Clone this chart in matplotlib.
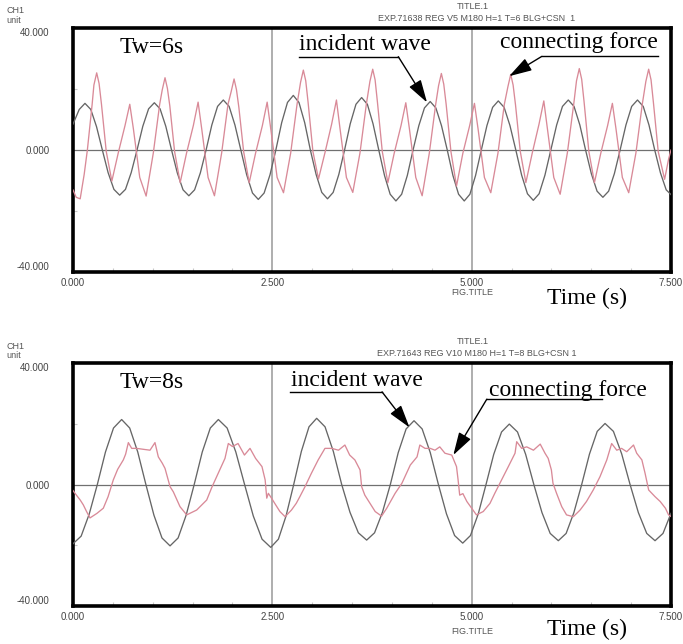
import matplotlib
matplotlib.use("Agg")
import matplotlib.pyplot as plt
from matplotlib.ticker import MultipleLocator, FixedLocator

# ---- top panel (Tw = 6 s) ----
t6_wave = [0.0, 0.078, 0.15, 0.223, 0.295, 0.368, 0.44, 0.513, 0.585, 0.658, 0.73, 0.803, 0.875, 0.948,
           1.02, 1.092, 1.164, 1.236, 1.308, 1.38, 1.453, 1.525, 1.597, 1.669, 1.741, 1.813,
           1.885, 1.958, 2.031, 2.105, 2.178, 2.251, 2.324, 2.397, 2.471, 2.544, 2.617, 2.69,
           2.763, 2.834, 2.906, 2.977, 3.049, 3.12, 3.192, 3.263, 3.334, 3.406, 3.477, 3.549,
           3.62, 3.692, 3.763, 3.835, 3.907, 3.978, 4.05, 4.122, 4.193, 4.265, 4.337, 4.408,
           4.48, 4.551, 4.622, 4.694, 4.765, 4.836, 4.907, 4.978, 5.049, 5.121, 5.192, 5.263,
           5.334, 5.407, 5.48, 5.554, 5.627, 5.7, 5.773, 5.846, 5.919, 5.993, 6.066, 6.139,
           6.212, 6.284, 6.357, 6.429, 6.501, 6.573, 6.646, 6.718, 6.79, 6.862, 6.935, 7.007,
           7.08, 7.152, 7.224, 7.296, 7.368, 7.44, 7.5]
v6_wave = [8.5, 13.3, 15.3, 13.3, 7.65, 0, -7.4, -12.9, -14.8, -12.9, -7.4, 0, 7.75, 13.5,
           15.5, 13.5, 7.75, 0, -7.5, -13.05, -15.0, -13.05, -7.5, 0, 8.2, 14.3,
           16.4, 14.3, 8.2, 0, -8.1, -14.1, -16.2, -14.1, -8.1, 0, 8.95, 15.6,
           17.9, 15.6, 8.95, 0, -8.0, -13.9, -16.0, -13.9, -8.0, 0, 8.6, 15.0,
           17.2, 15.0, 8.6, 0, -8.35, -14.5, -16.7, -14.5, -8.35, 0, 7.95, 13.8,
           15.9, 13.8, 7.95, 0, -8.35, -14.5, -16.7, -14.5, -8.35, 0, 8.05, 14.0,
           16.1, 14.0, 8.05, 0, -8.25, -14.35, -16.5, -14.35, -8.25, 0, 8.2, 14.3,
           16.4, 14.3, 8.2, 0, -7.75, -13.5, -15.5, -13.5, -7.75, 0, 8.2, 14.3,
           16.4, 14.3, 8.2, 0, -7.5, -13.05, -14.6]

t6_force = [0.0, 0.04, 0.09, 0.14, 0.18, 0.24,
            0.262, 0.297, 0.327, 0.357, 0.417, 0.487, 0.567, 0.652, 0.712, 0.757, 0.837, 0.917, 1.007, 1.087,
            1.119, 1.154, 1.184, 1.214, 1.274, 1.344, 1.424, 1.509, 1.569, 1.614, 1.694, 1.774, 1.864, 1.944,
            1.985, 2.02, 2.05, 2.08, 2.14, 2.21, 2.29, 2.375, 2.435, 2.48, 2.56, 2.64, 2.73, 2.81,
            2.854, 2.889, 2.919, 2.949, 3.009, 3.079, 3.159, 3.244, 3.304, 3.349, 3.429, 3.509, 3.599, 3.679,
            3.724, 3.759, 3.789, 3.819, 3.879, 3.949, 4.029, 4.114, 4.174, 4.219, 4.299, 4.379, 4.469, 4.549,
            4.585, 4.62, 4.65, 4.68, 4.74, 4.81, 4.89, 4.975, 5.035, 5.08, 5.16, 5.24, 5.33, 5.41,
            5.455, 5.49, 5.52, 5.55, 5.61, 5.68, 5.76, 5.845, 5.905, 5.95, 6.03, 6.11, 6.2, 6.28,
            6.315, 6.35, 6.38, 6.41, 6.47, 6.54, 6.62, 6.705, 6.765, 6.81, 6.89, 6.97, 7.06, 7.14,
            7.185, 7.22, 7.25, 7.28, 7.34, 7.42, 7.47, 7.5]
v6_force = [-13.1, -15.5, -16.0, -8.0, 0.0, 15.0,
            21.3, 25.3, 21.8, 15.0, -0.5, -10.2, -1.0, 8.0, 15.0, 7.0, -9.0, -15.1, -1.0, 15.0,
            19.7, 23.7, 20.2, 14.5, -0.5, -10.7, -1.0, 8.0, 15.7, 7.0, -9.0, -15.0, -1.0, 15.0,
            19.3, 23.3, 19.8, 14.0, -0.5, -10.7, -1.0, 8.0, 15.7, 7.0, -9.0, -14.0, -1.0, 15.0,
            22.2, 26.2, 22.7, 15.5, -0.5, -9.5, -1.0, 8.5, 16.4, 7.0, -9.0, -13.9, -1.0, 15.0,
            22.5, 26.5, 23.0, 15.5, -0.5, -10.7, -1.0, 8.0, 15.5, 7.0, -9.0, -15.0, -1.0, 15.0,
            21.1, 25.1, 21.6, 15.0, -0.5, -11.8, -1.0, 8.0, 15.3, 7.0, -9.0, -14.0, -1.0, 15.0,
            20.8, 24.8, 21.3, 14.8, -0.5, -10.7, -1.0, 8.5, 16.1, 7.0, -9.0, -14.5, -1.0, 15.0,
            22.7, 26.7, 23.2, 15.8, -0.5, -10.7, -1.0, 8.0, 15.3, 7.0, -9.0, -14.0, -1.0, 15.0,
            22.5, 26.5, 23.0, 15.5, -0.5, -9.6, -3.0, 0.0]

# ---- bottom panel (Tw = 8 s) ----
t8_wave = [0.0, 0.102, 0.203, 0.305, 0.407, 0.508, 0.61,
           0.711, 0.812, 0.914, 1.015, 1.116, 1.217,
           1.318, 1.419, 1.52, 1.621, 1.722, 1.823,
           1.933, 2.042, 2.152, 2.261, 2.371, 2.48,
           2.576, 2.672, 2.768, 2.864, 2.96, 3.056,
           3.161, 3.265, 3.37, 3.474, 3.579, 3.683,
           3.782, 3.881, 3.98, 4.079, 4.178, 4.277,
           4.379, 4.481, 4.583, 4.684, 4.786, 4.888,
           4.985, 5.083, 5.18, 5.277, 5.375, 5.472,
           5.575, 5.677, 5.78, 5.882, 5.985, 6.087,
           6.185, 6.282, 6.38, 6.478, 6.575, 6.673,
           6.778, 6.882, 6.987, 7.091, 7.196, 7.3, 7.4, 7.5]
v8_wave = [-19.5, -17.0, -9.75, 0, 10.7, 18.6, 21.4,
           18.6, 10.7, 0, -10.1, -17.6, -20.2,
           -17.6, -10.1, 0, 10.7, 18.6, 21.4,
           18.6, 10.7, 0, -10.35, -18.0, -20.7,
           -18.0, -10.35, 0, 10.9, 19.0, 21.8,
           19.0, 10.9, 0, -9.15, -15.9, -18.3,
           -15.9, -9.15, 0, 10.5, 18.3, 21.0,
           18.3, 10.5, 0, -9.65, -16.8, -19.3,
           -16.8, -9.65, 0, 9.95, 17.3, 19.9,
           17.3, 9.95, 0, -9.25, -16.1, -18.5,
           -16.1, -9.25, 0, 10.05, 17.5, 20.1,
           17.5, 10.05, 0, -9.25, -16.1, -18.5, -16.1, -9.5]

t8_force = [0.0, 0.025, 0.09, 0.129, 0.17, 0.213, 0.3, 0.38, 0.44, 0.505, 0.56, 0.631, 0.66,
            0.694, 0.736, 0.799, 0.88, 0.966, 1.028, 1.07, 1.12, 1.154, 1.217, 1.258, 1.342,
            1.426, 1.551, 1.677, 1.74, 1.802, 1.906, 1.948, 2.0, 2.07, 2.15, 2.22, 2.29, 2.37,
            2.41, 2.43, 2.45, 2.49, 2.53, 2.595, 2.66, 2.74, 2.8, 2.845, 2.91, 2.99, 3.075,
            3.16, 3.245, 3.33, 3.41, 3.47, 3.535, 3.6, 3.62, 3.66, 3.725, 3.79, 3.87, 3.935,
            4.04, 4.125, 4.23, 4.315, 4.35, 4.415, 4.48, 4.54, 4.6, 4.665, 4.75, 4.81, 4.83,
            4.85, 4.89, 4.94, 5.0, 5.06, 5.145, 5.23, 5.29, 5.375, 5.46, 5.544, 5.565, 5.628,
            5.69, 5.775, 5.86, 5.92, 5.96, 6.0, 6.02, 6.065, 6.13, 6.19, 6.275, 6.36, 6.44,
            6.525, 6.61, 6.695, 6.756, 6.82, 6.88, 6.945, 7.03, 7.07, 7.135, 7.175, 7.22,
            7.26, 7.3, 7.365, 7.43, 7.47, 7.5]
v8_force = [-2.0, -2.9, -5.1, -6.7, -8.9, -11.0, -9.5, -7.8, -4.0, 1.5, 5.0, 8.1, 10.0,
            13.8, 11.9, 11.9, 11.6, 11.3, 13.8, 9.1, 7.0, 5.3, -0.7, -2.4, -7.3,
            -10.0, -8.4, -5.1, -1.0, 2.6, 8.6, 13.5, 12.5, 13.5, 9.7, 11.9, 8.6, 5.9,
            1.5, -4.5, -2.9, -4.5, -6.2, -8.9, -10.6, -8.4, -6.2, -4.0, -0.7, 3.7, 8.1,
            11.9, 11.9, 11.3, 13.0, 9.7, 8.1, 4.8, -0.7, -3.5, -6.2, -8.9, -10.4, -7.8,
            -2.9, 0.4, 6.4, 9.1, 13.0, 11.9, 11.9, 11.3, 12.4, 10.3, 9.7, 5.9, 1.5,
            -3.5, -3.0, -5.6, -7.8, -10.0, -8.9, -6.2, -2.9, 1.5, 5.9, 10.3, 14.1, 11.9,
            12.4, 11.3, 13.3, 10.3, 8.6, 4.8, 0.4, -2.9, -7.3, -10.0, -10.6, -8.4, -5.6,
            -1.8, 2.6, 8.1, 13.5, 11.3, 11.9, 10.8, 13.0, 10.3, 8.1, 3.7, -1.8,
            -2.9, -4.0, -5.6, -7.8, -10.0, -10.5]

x_ticks = [0.0, 2.5, 5.0, 7.5]
x_tick_labels = ["0.000", "2.500", "5.000", "7.500"]
y_ticks = [-40, 0, 40]
y_tick_labels = ["-40.000", "0.000", "40.000"]

panels = [
    dict(t_wave=t6_wave, v_wave=v6_wave, t_force=t6_force, v_force=v6_force,
         rect=[0.1069, 0.5776, 0.8755, 0.3789], tw="Tw=6s", time_y=-0.11, fig_y=-0.082,
         exp="EXP.71638 REG V5 M180 H=1 T=6 BLG+CSN  1",
         inc_text=(3.66, 34.7), inc_line=[(2.83, 30.6), (4.08, 30.6)], inc_tip=(4.44, 15.6),
         con_text=(6.35, 35.3), con_line=[(7.34, 30.7), (5.88, 30.7)], con_tip=(5.47, 24.2)),
    dict(t_wave=t8_wave, v_wave=v8_wave, t_force=t8_force, v_force=v8_force,
         rect=[0.1069, 0.0590, 0.8755, 0.3773], tw="Tw=8s", time_y=-0.095, fig_y=-0.105,
         exp="EXP.71643 REG V10 M180 H=1 T=8 BLG+CSN 1",
         inc_text=(3.556, 34.4), inc_line=[(2.72, 30.5), (3.876, 30.5)], inc_tip=(4.22, 18.8),
         con_text=(6.21, 31.1), con_line=[(6.63, 28.1), (5.19, 28.1)], con_tip=(4.77, 9.7)),
]

serif = "Liberation Serif"
sans = "Liberation Sans"
hdr_col = "#555555"
arrow = dict(arrowstyle="-|>,head_length=1.4,head_width=0.42",
             color="black", lw=1.0, shrinkA=0, shrinkB=0)

fig = plt.figure(figsize=(6.83, 6.44), dpi=100)

for p in panels:
    ax = fig.add_axes(p["rect"])
    ax.set_xlim(0, 7.5)
    ax.set_ylim(-40, 40)

    ax.axvline(2.5, color="#a8a8a8", lw=1.3, zorder=1)
    ax.axvline(5.0, color="#a8a8a8", lw=1.3, zorder=1)
    ax.axhline(0, color="#707070", lw=0.9, zorder=1)

    ax.plot(p["t_wave"], p["v_wave"], color="#666666", lw=0.95, zorder=3)
    ax.plot(p["t_force"], p["v_force"], color="#d98a98", lw=0.95, zorder=4)

    for s in ax.spines.values():
        s.set_linewidth(2.6)
        s.set_color("black")

    ax.xaxis.set_major_locator(FixedLocator(x_ticks))
    ax.set_xticklabels(x_tick_labels)
    ax.yaxis.set_major_locator(FixedLocator(y_ticks))
    ax.set_yticklabels(y_tick_labels)
    ax.xaxis.set_minor_locator(MultipleLocator(0.5))
    ax.yaxis.set_minor_locator(FixedLocator([-20, 20]))
    ax.tick_params(axis="both", which="major", length=0, labelsize=7, labelcolor="#444444")
    ax.tick_params(axis="x", which="major", pad=4)
    ax.tick_params(axis="y", which="major", pad=17)
    ax.tick_params(axis="both", which="minor", direction="in", length=3, color="#c8c8c8", width=0.8)
    for lab in ax.get_xticklabels() + ax.get_yticklabels():
        lab.set_family(sans)
    ylabs = ax.get_yticklabels()
    ylabs[0].set_va("bottom")
    ylabs[2].set_va("top")

    ax.text(0.99, 33.7, p["tw"], family=serif, fontsize=17, ha="center", va="center", zorder=6)

    ax.text(*p["inc_text"], "incident wave", family=serif, fontsize=17,
            ha="center", va="center", zorder=6)
    (x0, y0), (x1, y1) = p["inc_line"]
    ax.plot([x0, x1], [y0, y1], color="black", lw=1.0, zorder=6)
    ax.annotate("", xy=p["inc_tip"], xytext=(x1, y1), arrowprops=arrow, zorder=6)

    ax.text(*p["con_text"], "connecting force", family=serif, fontsize=17,
            ha="center", va="center", zorder=6)
    (x0, y0), (x1, y1) = p["con_line"]
    ax.plot([x0, x1], [y0, y1], color="black", lw=1.0, zorder=6)
    ax.annotate("", xy=p["con_tip"], xytext=(x1, y1), arrowprops=arrow, zorder=6)

    # header / footer texts in axes fraction
    ax.text(-0.112, 1.07, "CH1", transform=ax.transAxes, family=sans, fontsize=6.5,
            color=hdr_col, ha="left", va="center")
    ax.text(-0.112, 1.03, "unit", transform=ax.transAxes, family=sans, fontsize=6.5,
            color=hdr_col, ha="left", va="center")
    ax.text(0.668, 1.09, "TITLE.1", transform=ax.transAxes, family=sans, fontsize=6.5,
            color=hdr_col, ha="center", va="center")
    ax.text(0.675, 1.04, p["exp"], transform=ax.transAxes, family=sans, fontsize=6.5,
            color=hdr_col, ha="center", va="center")
    ax.text(0.668, p["fig_y"], "FIG.TITLE", transform=ax.transAxes, family=sans, fontsize=6.5,
            color=hdr_col, ha="center", va="center")
    ax.text(0.86, p["time_y"], "Time (s)", transform=ax.transAxes, family=serif, fontsize=17,
            ha="center", va="center")

fig.savefig("out.png", dpi=100)
